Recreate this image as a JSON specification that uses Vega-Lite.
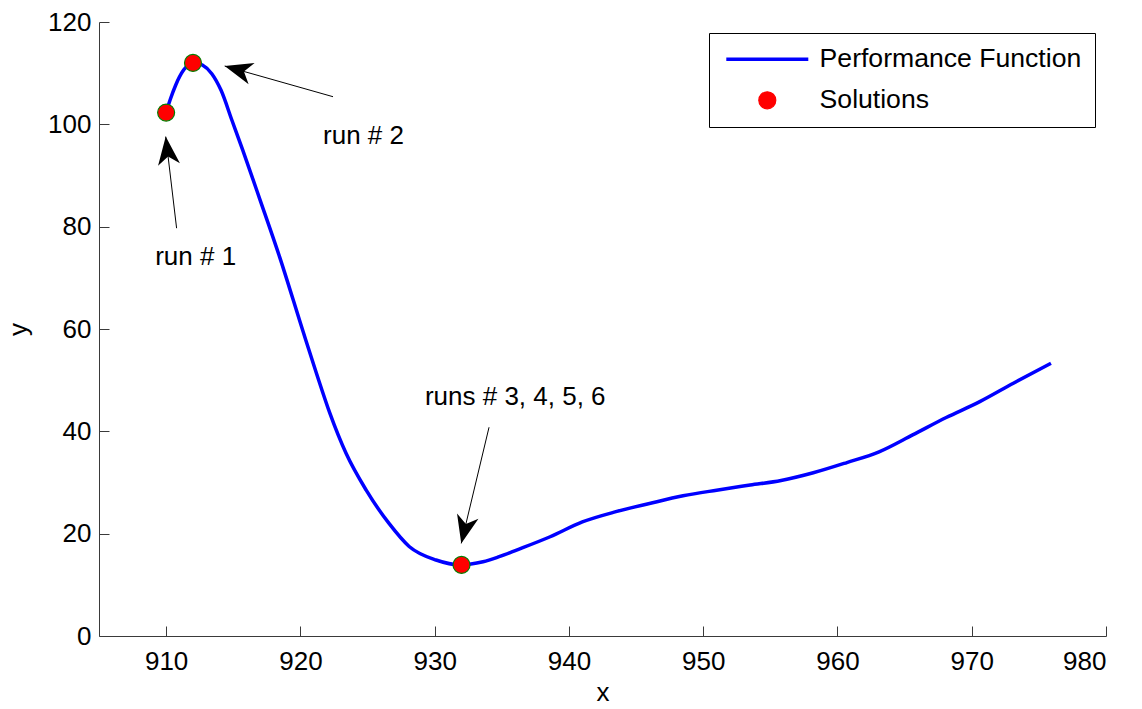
{
  "$schema": "https://vega.github.io/schema/vega-lite/v6.json",
  "width": 1007,
  "height": 614,
  "autosize": {"type": "none"},
  "padding": {"left": 99, "top": 22, "right": 36, "bottom": 73},
  "background": "white",
  "config": {
    "view": {"stroke": null},
    "font": "Liberation Sans",
    "axis": {
      "grid": false,
      "domainColor": "#3a3a3a",
      "tickColor": "#3a3a3a",
      "domainWidth": 1,
      "tickWidth": 1,
      "tickSize": -10,
      "labelFont": "Liberation Sans",
      "labelFontSize": 26,
      "labelColor": "black",
      "titleFont": "Liberation Sans",
      "titleFontSize": 26,
      "titleFontWeight": "normal",
      "titleColor": "black"
    }
  },
  "datasets": {
    "curve": [
      {"x": 910.0, "y": 102.3, "series": "Performance Function"},
      {"x": 910.3, "y": 104.8, "series": "Performance Function"},
      {"x": 910.7, "y": 107.6, "series": "Performance Function"},
      {"x": 911.3, "y": 110.6, "series": "Performance Function"},
      {"x": 912.0, "y": 112.1, "series": "Performance Function"},
      {"x": 912.7, "y": 111.6, "series": "Performance Function"},
      {"x": 913.4, "y": 109.9, "series": "Performance Function"},
      {"x": 914.1, "y": 106.6, "series": "Performance Function"},
      {"x": 914.9, "y": 100.8, "series": "Performance Function"},
      {"x": 915.7, "y": 95.0, "series": "Performance Function"},
      {"x": 917.0, "y": 85.2, "series": "Performance Function"},
      {"x": 918.45, "y": 74.1, "series": "Performance Function"},
      {"x": 920.2, "y": 59.5, "series": "Performance Function"},
      {"x": 921.2, "y": 51.3, "series": "Performance Function"},
      {"x": 922.2, "y": 43.5, "series": "Performance Function"},
      {"x": 923.4, "y": 35.7, "series": "Performance Function"},
      {"x": 924.9, "y": 28.5, "series": "Performance Function"},
      {"x": 926.6, "y": 22.0, "series": "Performance Function"},
      {"x": 928.1, "y": 17.5, "series": "Performance Function"},
      {"x": 930.1, "y": 14.85, "series": "Performance Function"},
      {"x": 931.9, "y": 13.9, "series": "Performance Function"},
      {"x": 933.6, "y": 14.5, "series": "Performance Function"},
      {"x": 934.8, "y": 15.5, "series": "Performance Function"},
      {"x": 936.1, "y": 16.8, "series": "Performance Function"},
      {"x": 938.6, "y": 19.4, "series": "Performance Function"},
      {"x": 941.0, "y": 22.3, "series": "Performance Function"},
      {"x": 943.5, "y": 24.3, "series": "Performance Function"},
      {"x": 946.0, "y": 25.9, "series": "Performance Function"},
      {"x": 948.5, "y": 27.4, "series": "Performance Function"},
      {"x": 951.0, "y": 28.5, "series": "Performance Function"},
      {"x": 953.5, "y": 29.5, "series": "Performance Function"},
      {"x": 955.8, "y": 30.4, "series": "Performance Function"},
      {"x": 958.2, "y": 31.9, "series": "Performance Function"},
      {"x": 960.7, "y": 33.9, "series": "Performance Function"},
      {"x": 963.1, "y": 36.0, "series": "Performance Function"},
      {"x": 965.6, "y": 39.3, "series": "Performance Function"},
      {"x": 968.1, "y": 42.7, "series": "Performance Function"},
      {"x": 970.6, "y": 45.8, "series": "Performance Function"},
      {"x": 973.1, "y": 49.4, "series": "Performance Function"},
      {"x": 975.9, "y": 53.3, "series": "Performance Function"}
    ],
    "solutions": [
      {"x": 910, "y": 102.3, "series": "Solutions"},
      {"x": 912, "y": 112.0, "series": "Solutions"},
      {"x": 932, "y": 13.9, "series": "Solutions"}
    ],
    "arrows": [
      {"id": "a1", "x": 910.78, "y": 79.7, "tx": 909.97, "ty": 97.6},
      {"id": "a2", "x": 922.43, "y": 105.4, "tx": 914.36, "ty": 111.4},
      {"id": "a3", "x": 934.05, "y": 40.8, "tx": 931.98, "ty": 18.1}
    ],
    "labels": [
      {"x": 912.2, "y": 74.0, "text": "run # 1"},
      {"x": 924.7, "y": 97.8, "text": "run # 2"},
      {"x": 936.0, "y": 46.8, "text": "runs # 3, 4, 5, 6"}
    ]
  },
  "layer": [
    {
      "data": {"name": "curve"},
      "mark": {"type": "line", "strokeWidth": 3.5, "interpolate": "monotone", "clip": false},
      "encoding": {
        "x": {
          "field": "x", "type": "quantitative",
          "scale": {"domain": [905, 980], "nice": false, "zero": false},
          "axis": {"values": [910, 920, 930, 940, 950, 960, 970, 980], "title": "x", "labelPadding": 22, "titlePadding": 5}
        },
        "y": {
          "field": "y", "type": "quantitative",
          "scale": {"domain": [0, 120], "nice": false},
          "axis": {"values": [0, 20, 40, 60, 80, 100, 120], "title": "y", "labelPadding": 18, "titlePadding": 16}
        },
        "color": {
          "field": "series", "type": "nominal",
          "scale": {"domain": ["Performance Function", "Solutions"], "range": ["#0000ff", "#ff0000"]},
          "legend": {
            "title": null,
            "orient": "top-right",
            "offset": 11,
            "strokeColor": "black",
            "fillColor": "white",
            "padding": 13,
            "labelFont": "Liberation Sans",
            "labelFontSize": 26.6,
            "labelColor": "black",
            "labelOffset": 39,
            "symbolOffset": 32,
            "labelLimit": 400,
            "symbolSize": 6724,
            "symbolStrokeWidth": 3,
            "rowPadding": 14,
            "encode": {
              "symbols": {
                "update": {
                  "shape": {"signal": "datum.value === 'Solutions' ? 'circle' : 'stroke'"},
                  "size": {"signal": "datum.value === 'Solutions' ? 289 : 6724"},
                  "fill": {"signal": "datum.value === 'Solutions' ? '#ff0000' : 'transparent'"},
                  "stroke": {"signal": "datum.value === 'Solutions' ? '#008000' : '#0000ff'"},
                  "strokeWidth": {"signal": "datum.value === 'Solutions' ? 1.2 : 3.5"},
                  "opacity": {"value": 1}
                }
              }
            }
          }
        }
      }
    },
    {
      "data": {"name": "solutions"},
      "mark": {"type": "point", "filled": true, "size": 289, "stroke": "#008000", "strokeWidth": 1.2, "opacity": 1},
      "encoding": {
        "x": {"field": "x", "type": "quantitative"},
        "y": {"field": "y", "type": "quantitative"},
        "color": {"field": "series", "type": "nominal"}
      }
    },
    {
      "data": {"name": "arrows"},
      "mark": {"type": "rule", "color": "black", "strokeWidth": 1},
      "encoding": {
        "x": {"field": "x", "type": "quantitative"},
        "y": {"field": "y", "type": "quantitative"},
        "x2": {"field": "tx"},
        "y2": {"field": "ty"}
      }
    },
    {
      "data": {"name": "arrows"},
      "transform": [{"filter": "datum.id === 'a1'"}],
      "mark": {"type": "point", "shape": "M0,0L1.1,2.8L0,2L-1.1,2.8Z", "filled": true, "color": "black", "size": 400, "angle": 353.3, "opacity": 1, "strokeWidth": 0},
      "encoding": {
        "x": {"field": "tx", "type": "quantitative"},
        "y": {"field": "ty", "type": "quantitative"}
      }
    },
    {
      "data": {"name": "arrows"},
      "transform": [{"filter": "datum.id === 'a2'"}],
      "mark": {"type": "point", "shape": "M0,0L1.1,2.8L0,2L-1.1,2.8Z", "filled": true, "color": "black", "size": 400, "angle": 285.8, "opacity": 1, "strokeWidth": 0},
      "encoding": {
        "x": {"field": "tx", "type": "quantitative"},
        "y": {"field": "ty", "type": "quantitative"}
      }
    },
    {
      "data": {"name": "arrows"},
      "transform": [{"filter": "datum.id === 'a3'"}],
      "mark": {"type": "point", "shape": "M0,0L1.1,2.8L0,2L-1.1,2.8Z", "filled": true, "color": "black", "size": 400, "angle": 193.4, "opacity": 1, "strokeWidth": 0},
      "encoding": {
        "x": {"field": "tx", "type": "quantitative"},
        "y": {"field": "ty", "type": "quantitative"}
      }
    },
    {
      "data": {"name": "labels"},
      "mark": {"type": "text", "font": "Liberation Sans", "fontSize": 26, "color": "black", "align": "center", "baseline": "middle"},
      "encoding": {
        "x": {"field": "x", "type": "quantitative"},
        "y": {"field": "y", "type": "quantitative"},
        "text": {"field": "text"}
      }
    }
  ]
}
